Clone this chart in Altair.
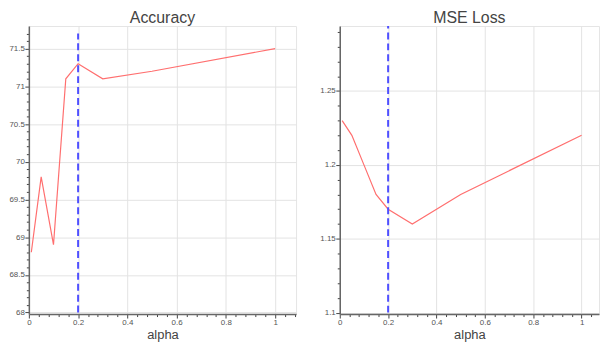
import altair as alt
import pandas as pd

alpha = [0.01, 0.05, 0.1, 0.15, 0.2, 0.3, 0.5, 1.0]
accuracy = [68.8, 69.8, 68.9, 71.1, 71.3, 71.1, 71.2, 71.5]
mse_alpha = [0.01, 0.05, 0.1, 0.15, 0.2, 0.3, 0.5, 1.0]
mse = [1.23, 1.22, 1.20, 1.18, 1.17, 1.16, 1.18, 1.22]
best_alpha = 0.2
acc_vline_y = [68.0, 71.7]
mse_vline_y = [1.1, 1.294]

x_ticks = [round(i * 0.04, 2) for i in range(0, 28)]
acc_ticks = [round(68.0 + i * 0.1, 1) for i in range(0, 38)]
mse_ticks = [round(1.1 + i * 0.01, 2) for i in range(0, 20)]

FONT = "Liberation Sans"
H = 290


def is_major(step):
    return f"abs(datum.value/{step} - round(datum.value/{step})) < 0.000001"


def make_axis(values, step, title=None, ext=None):
    cond = is_major(step)
    kw = dict(
        values=values,
        labelExpr=f"({cond}) ? format(datum.value, '~g') : ''",
        tickSize={"condition": {"test": cond, "value": 4}, "value": 2.5},
        gridOpacity={"condition": {"test": cond, "value": 1}, "value": 0},
        labelFont=FONT,
        labelFontSize=8,
        labelColor="#555",
        labelPadding=0.5,
        tickColor="#444",
        domainColor="#666",
        domainWidth=1.5,
        gridColor="#e3e3e3",
        labelOverlap=False,
        labelFlush=False,
    )
    if title is not None:
        kw.update(title=title, titleFont=FONT, titleFontSize=13,
                  titleFontWeight="normal", titleColor="#444", titlePadding=2)
    else:
        kw.update(title=None)
    if ext is not None:
        kw.update(minExtent=ext, maxExtent=ext)
    return alt.Axis(**kw)


def panel(xs, ys, vline_y, xmax, ydomain, yticks, ystep, title, width):
    df = pd.DataFrame({"alpha": xs, "v": ys, "kind": "data"})
    vdf = pd.DataFrame({"alpha": [best_alpha, best_alpha], "v": vline_y, "kind": "vline"})
    alldf = pd.concat([df, vdf], ignore_index=True)
    xscale = alt.Scale(domain=[0, xmax], nice=False, zero=False)
    yscale = alt.Scale(domain=ydomain, nice=False, zero=False)
    base = alt.Chart(alldf).encode(
        x=alt.X("alpha:Q", scale=xscale, axis=make_axis(x_ticks, 0.2, title="alpha")),
        y=alt.Y("v:Q", scale=yscale, axis=make_axis(yticks, ystep, ext=20)),
    )
    line = base.transform_filter(alt.datum.kind == "data").mark_line(
        color="#ff6f6f", strokeWidth=1.2, clip=True)
    vline = base.transform_filter(alt.datum.kind == "vline").mark_line(
        color="#4f4fff", strokeWidth=2, strokeDash=[7, 4], clip=True)
    return alt.layer(line, vline).properties(
        width=width, height=H,
        title=alt.TitleParams(title, font=FONT, fontSize=16, fontWeight="normal",
                              color="#444", offset=0, anchor="middle"),
    )


left = panel(alpha, accuracy, acc_vline_y, 1.085, [67.98, 71.8], acc_ticks, 0.5, "Accuracy", 269)
right = panel(mse_alpha, mse, mse_vline_y, 1.072, [1.099, 1.294], mse_ticks, 0.05, "MSE Loss", 261)

chart = alt.hconcat(left, right, spacing=22).properties(
    padding=0, background="white"
).configure_view(stroke="#e5e5e5", strokeWidth=1)

chart.save("out.html", embed_options={"renderer": "svg", "actions": False})
